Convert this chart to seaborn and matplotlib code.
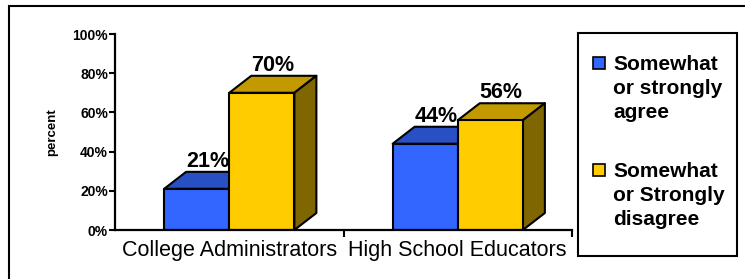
import matplotlib
matplotlib.use("Agg")
import matplotlib.pyplot as plt
from matplotlib.patches import Polygon, Rectangle
import seaborn as sns
import pandas as pd

# ---- data ----
groups = ["College Administrators", "High School Educators"]
responses = ["Somewhat or strongly agree", "Somewhat or Strongly disagree"]
agree = [21, 44]
disagree = [70, 56]
y_ticks = [0, 20, 40, 60, 80, 100]
y_tick_labels = ["0%", "20%", "40%", "60%", "80%", "100%"]
legend_lines = [["Somewhat", "or strongly", "agree"],
                ["Somewhat", "or Strongly", "disagree"]]

# ---- style ----
front = ["#3366FF", "#FFCC00"]
top_c = ["#2850C4", "#C29A00"]
side_c = ["#1A3A99", "#806600"]
FONT = "Liberation Sans"
EDGE_LW = 1.5

W, H = 745, 279
sns.set_theme(style="white")
plt.rcParams["font.family"] = [FONT, "DejaVu Sans"]

fig = plt.figure(figsize=(W / 100, H / 100), dpi=100)
fig.patch.set_facecolor("white")

def fx(px):
    return px / W

def fy(py):
    return 1 - py / H

ax_l, ax_r, ax_t, ax_b = 115, 572, 34, 230
ax = fig.add_axes([fx(ax_l), fy(ax_b), fx(ax_r) - fx(ax_l), (ax_b - ax_t) / H])

df = pd.DataFrame({
    "group": groups * 2,
    "response": [responses[0]] * 2 + [responses[1]] * 2,
    "percent": agree + disagree,
})

sns.barplot(data=df, x="group", y="percent", hue="response", hue_order=responses,
            order=groups, palette=front, saturation=1, width=0.57, gap=0,
            edgecolor="black", linewidth=EDGE_LW, legend=False, ax=ax)

ax.set_xlim(-0.5, 1.5)
ax.set_ylim(0, 100)

# 3D depth in pixels converted to data units
DX_PX, DY_PX = 22, 17
dx = DX_PX * 2.0 / (ax_r - ax_l)
dy = DY_PX * 100.0 / (ax_b - ax_t)

bars = [p for p in ax.patches if isinstance(p, Rectangle)]
bars = sorted(bars, key=lambda p: p.get_x())
for p in bars:
    fc = p.get_facecolor()
    idx = 0 if abs(fc[2] - 1.0) < 0.05 else 1
    x0 = p.get_x()
    w = p.get_width()
    h = p.get_height()
    z = 2 + 2 * idx
    p.set_zorder(z)
    p.set_joinstyle("round")
    top = Polygon([(x0, h), (x0 + w, h), (x0 + w + dx, h + dy), (x0 + dx, h + dy)],
                  closed=True, facecolor=top_c[idx], edgecolor="black",
                  linewidth=EDGE_LW, zorder=z - 0.1, clip_on=False, joinstyle="round")
    side = Polygon([(x0 + w, 0), (x0 + w + dx, dy), (x0 + w + dx, h + dy), (x0 + w, h)],
                   closed=True, facecolor=side_c[idx], edgecolor="black",
                   linewidth=EDGE_LW, zorder=z - 0.1, clip_on=False, joinstyle="round")
    ax.add_patch(top)
    ax.add_patch(side)
    ax.annotate(f"{h:.0f}%", xy=(x0 + w / 2, h), xytext=(DX_PX / 2, DY_PX),
                textcoords="offset pixels", ha="center", va="bottom",
                fontsize=15.5, fontweight="bold", color="black", zorder=10,
                annotation_clip=False)

# axes styling
for s in ["top", "right"]:
    ax.spines[s].set_visible(False)
for s in ["left", "bottom"]:
    ax.spines[s].set_color("black")
    ax.spines[s].set_linewidth(1.6)
    ax.spines[s].set_zorder(6)

ax.set_yticks(y_ticks)
ax.set_yticklabels(y_tick_labels, fontsize=10, fontweight="bold", color="black")
ax.tick_params(axis="y", direction="out", length=4, width=1.5, color="black", pad=1, left=True)
ax.set_xticks(range(len(groups)))
ax.set_xticklabels(groups, fontsize=15.5, color="black")
ax.tick_params(axis="x", which="major", length=0, pad=7)
ax.set_xticks([0.5, 1.5], minor=True)
ax.tick_params(axis="x", which="minor", direction="out", length=5, width=1.5,
               color="black", bottom=True)
ax.set_xlabel("")
ax.set_ylabel("percent", fontsize=9.5, fontweight="bold", color="black")
ax.yaxis.set_label_coords((58 - ax_l) / (ax_r - ax_l), 0.5)
ax.set_facecolor("none")
ax.grid(False)

# legend (drawn manually to match layout)
fig.add_artist(Rectangle((fx(578), fy(256)), fx(737) - fx(578), (256 - 33) / H,
                         transform=fig.transFigure, facecolor="white",
                         edgecolor="black", linewidth=1.5))
marker_tops = [57, 164]
baselines = [[70, 94, 118], [177, 201, 225]]
for i in range(2):
    fig.add_artist(Rectangle((fx(593), fy(marker_tops[i] + 12)), 12 / W, 12 / H,
                             transform=fig.transFigure, facecolor=front[i],
                             edgecolor="black", linewidth=1.2))
    for line, bl in zip(legend_lines[i], baselines[i]):
        fig.text(fx(613), fy(bl), line, fontsize=15, fontweight="bold",
                 color="black", ha="left", va="baseline")

# outer frame
fig.add_artist(Rectangle((fx(9), -0.1), 1.2, fy(6) + 0.1, transform=fig.transFigure,
                         facecolor="none", edgecolor="black", linewidth=1.5,
                         clip_on=False))

fig.savefig("out.png", dpi=100)
